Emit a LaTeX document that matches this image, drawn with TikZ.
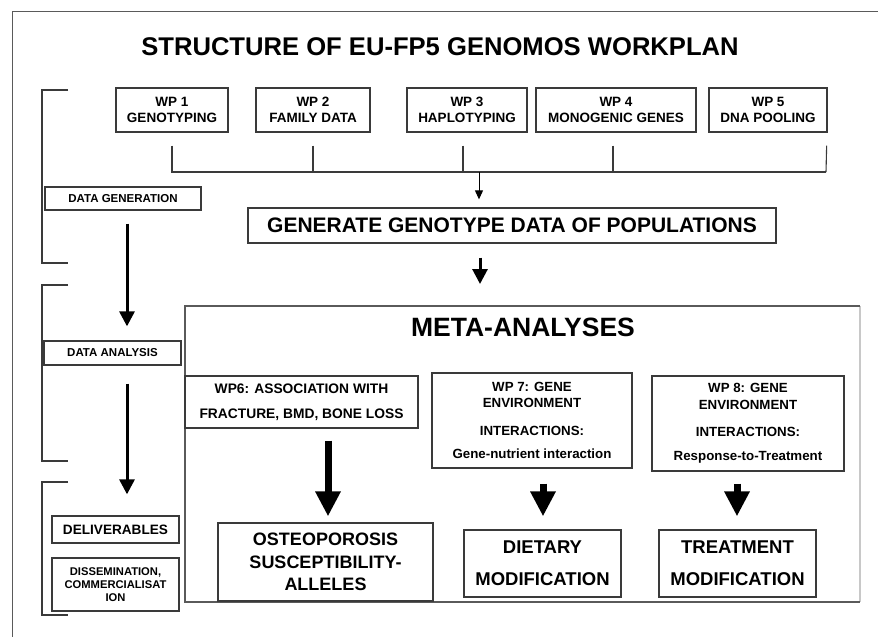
\documentclass[tikz,border=0pt]{standalone}
\usepackage{fontspec}
\setmainfont{Liberation Sans}
\usetikzlibrary{arrows.meta}
\definecolor{edgecol}{HTML}{3A3A3A}
\definecolor{framecol}{HTML}{5A5A5A}
\definecolor{lightcol}{HTML}{C8C8C8}
\newcommand{\myfs}[2]{\fontsize{#1}{#2}\selectfont}
\begin{document}
\begin{tikzpicture}[x=1pt,y=-1pt,
  box/.style={draw=edgecol, line width=1.3pt, inner sep=0pt, align=center},
  bracketline/.style={draw=edgecol, line width=1.3pt},
  thinline/.style={draw=edgecol, line width=1.1pt},
  smallarrow/.style={draw=black, line width=1pt, -{Triangle[length=9pt,width=8pt]}},
  midarrow/.style={draw=black, line width=3pt, -{Triangle[length=15pt,width=15pt]}},
  bigarrow/.style={draw=black, line width=7pt, -{Triangle[length=25pt,width=24pt]}},
]
\useasboundingbox[fill=white] (0,0) rectangle (878,637);

% outer frame
\draw[draw=framecol, line width=1pt] (12,637) -- (12,11) -- (878,11);

% title
\node[font=\bfseries\myfs{25.6}{30}] (title) at (440,47) {STRUCTURE OF EU-FP5 GENOMOS WORKPLAN};

% brackets
\draw[bracketline] (68,90) -- (42,90) -- (42,263) -- (68,263);
\draw[bracketline] (68,285) -- (42,285) -- (42,461) -- (68,461);
\draw[bracketline] (68,482) -- (42,482) -- (42,615) -- (68,615);

% left column boxes
\node[box, minimum width=156pt, minimum height=23pt, font=\bfseries\myfs{11.5}{13}] (dg) at (123,198.5) {DATA GENERATION};
\node[box, minimum width=137pt, minimum height=24pt, font=\bfseries\myfs{11.5}{13}] (da) at (112.5,353) {DATA ANALYSIS};
\node[box, minimum width=127pt, minimum height=27pt, font=\bfseries\myfs{13.6}{15}] (del) at (115.5,529.5) {DELIVERABLES};
\node[box, minimum width=127pt, minimum height=53pt, font=\bfseries\myfs{11.2}{13}] (dis) at (115.5,584.5) {DISSEMINATION,\\COMMERCIALISAT\\ION};

% WP row
\node[box, minimum width=112pt, minimum height=44pt, font=\bfseries\myfs{13.5}{16}] (wp1) at (172,110) {WP 1\\GENOTYPING};
\node[box, minimum width=114pt, minimum height=44pt, font=\bfseries\myfs{13.5}{16}] (wp2) at (313,110) {WP 2\\FAMILY DATA};
\node[box, minimum width=120pt, minimum height=44pt, font=\bfseries\myfs{13.5}{16}] (wp3) at (467,110) {WP 3\\HAPLOTYPING};
\node[box, minimum width=160pt, minimum height=44pt, font=\bfseries\myfs{13.5}{16}] (wp4) at (616,110) {WP 4\\MONOGENIC GENES};
\node[box, minimum width=118pt, minimum height=44pt, font=\bfseries\myfs{13.5}{16}] (wp5) at (768,110) {WP 5\\DNA POOLING};

% bus
\coordinate (busL) at (171,172);
\coordinate (busR) at (826,172);
\coordinate (busA) at (479,172);
\draw[thinline] (busL) -- (busR);
\draw[thinline] ([yshift=-13pt]wp1.south) -- (wp1.south |- busL);
\draw[thinline] ([yshift=-13pt]wp2.south) -- (wp2.south |- busL);
\draw[thinline] ([xshift=-4pt,yshift=-13pt]wp3.south) -- ([xshift=-4pt]wp3.south |- busL);
\draw[thinline] ([xshift=-3pt,yshift=-13pt]wp4.south) -- ([xshift=-3pt]wp4.south |- busL);
\draw[thinline] ([xshift=-1pt,yshift=-13pt]wp5.south east) -- (busR);

% generate box
\node[box, minimum width=528pt, minimum height=35pt, font=\bfseries\myfs{21}{24}] (gen) at (512,225.5) {GENERATE GENOTYPE DATA OF POPULATIONS};
\draw[smallarrow, shorten >=8pt] (busA) -- (gen.north -| busA);

% meta-analyses frame
\coordinate (mTL) at (185,306);
\coordinate (mBR) at (860,602);
\draw[draw=lightcol, line width=1.2pt] (mBR |- mTL) -- (mBR);
\draw[draw=framecol, line width=1.3pt] (mBR |- mTL) -- (mTL) -- (mTL |- mBR) -- (mBR);
\node[font=\bfseries\myfs{26.5}{30}] (meta) at (523,327) {META-ANALYSES};

\coordinate (ga) at (480,0);
\draw[midarrow, shorten <=14pt, shorten >=22pt] (gen.south -| ga) -- (mTL -| ga);

% WP 6-8
\node[box, minimum width=233pt, minimum height=52pt, font=\bfseries\myfs{13.8}{16}] (wp6) at (301.5,402) {WP6: ASSOCIATION WITH\\[9pt]FRACTURE, BMD, BONE LOSS};
\node[box, minimum width=200pt, minimum height=95pt, font=\bfseries\myfs{13.3}{16}] (wp7) at (532,420.5) {WP 7: GENE\\ENVIRONMENT\\[12pt]INTERACTIONS:\\[7pt]Gene-nutrient interaction};
\node[box, minimum width=192pt, minimum height=95pt, font=\bfseries\myfs{13.3}{16}] (wp8) at (748,423.5) {WP 8: GENE\\[1pt]ENVIRONMENT\\[11pt]INTERACTIONS:\\[8pt]Response-to-Treatment};

% outcome boxes
\node[box, minimum width=215pt, minimum height=78pt, font=\bfseries\myfs{18}{22.5}] (ost) at (325.5,562) {OSTEOPOROSIS\\SUSCEPTIBILITY-\\ALLELES};
\node[box, minimum width=157pt, minimum height=67pt, font=\bfseries\myfs{18.5}{22}] (diet) at (542.5,563.5) {DIETARY\\[10pt]MODIFICATION};
\node[box, minimum width=157pt, minimum height=67pt, font=\bfseries\myfs{18.5}{22}] (treat) at (737.5,563.5) {TREATMENT\\[10pt]MODIFICATION};

% big arrows
\coordinate (a6) at (328,0);
\coordinate (a7) at (543,0);
\coordinate (a8) at (737,0);
\draw[bigarrow, shorten <=12pt, shorten >=6pt] (wp6.south -| a6) -- (ost.north -| a6);
\draw[bigarrow, shorten <=15pt, shorten >=13pt] (wp7.south -| a7) -- (diet.north -| a7);
\draw[bigarrow, shorten <=12pt, shorten >=13pt] (wp8.south -| a8) -- (treat.north -| a8);

% left column arrows
\coordinate (la) at (127,0);
\draw[midarrow, shorten <=13pt, shorten >=14pt] (dg.south -| la) -- (da.north -| la);
\draw[midarrow, shorten <=18pt, shorten >=21pt] (da.south -| la) -- (del.north -| la);
\end{tikzpicture}
\end{document}
